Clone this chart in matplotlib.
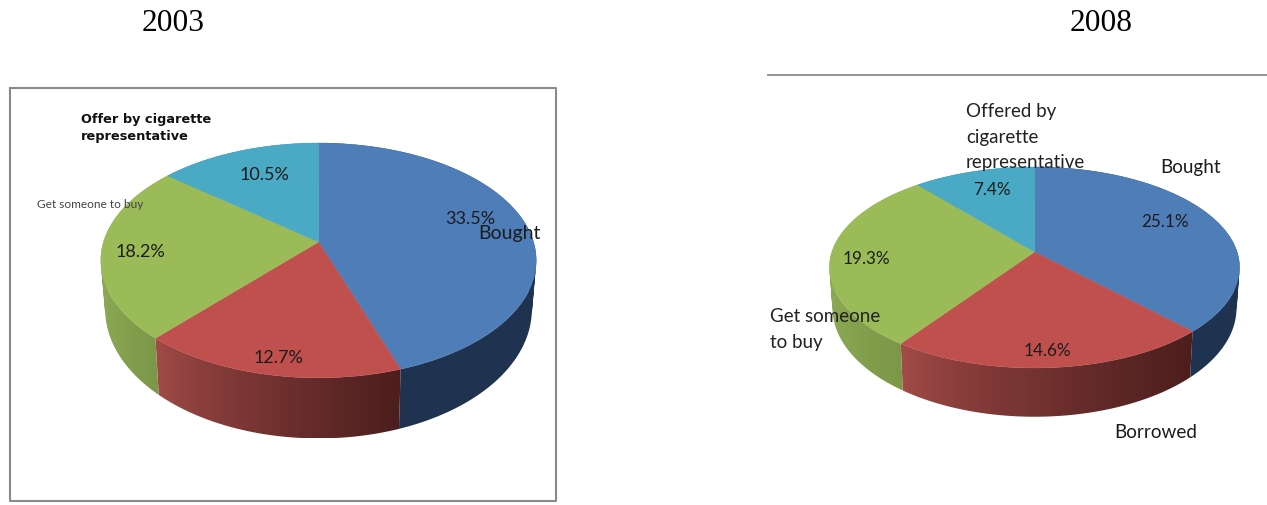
import numpy as np
import matplotlib
matplotlib.use("Agg")
import matplotlib.pyplot as plt
from matplotlib.path import Path
from matplotlib.colors import to_rgb

# Sources of the first cigarette, share in percent
sources_2003 = [33.5, 12.7, 18.2, 10.5]
sources_2008 = [25.1, 14.6, 19.3, 7.4]

top_colors = ["#4e7db8", "#bf504d", "#9bbb59", "#4aaac5"]
side_colors = [("#1f3350", "#1f3350"), ("#a44c49", "#4c1e1d"),
               ("#8dab55", "#7c9748"), ("#35798c", "#35798c")]


def project(theta, geo):
    # circle seen in perspective, theta runs clockwise from 12 o'clock
    u = np.sin(theta)
    v = -np.cos(theta)
    d = 1 - geo["k"] * v
    return geo["A"] * u / d, geo["B"] * v / d


def wall_path(px, py, qx, qy):
    # union of small quads swept from the top rim to the bottom rim
    parts = []
    for j in range(len(px) - 1):
        quad = np.array([(px[j], py[j]), (px[j + 1], py[j + 1]),
                         (qx[j + 1], qy[j + 1]), (qx[j], qy[j])])
        area = np.sum(quad[:, 0] * np.roll(quad[:, 1], -1) - np.roll(quad[:, 0], -1) * quad[:, 1])
        if area < 0:
            quad = quad[::-1]
        parts.append(Path(np.vstack([quad, quad[0]]), closed=True))
    return Path.make_compound_path(*parts)


def draw_pie(ax, values, geo):
    values = np.array(values)
    edges = np.concatenate([[0], np.cumsum(values) / values.sum()]) * 2 * np.pi
    cx, cy = geo["cx"], geo["cy"]

    for i in range(len(values)):
        th = np.linspace(edges[i], edges[i + 1], 200)
        x, y = project(th, geo)

        # outer wall: horizontal gradient clipped to the slice's band
        xb = x * geo["sx"]
        yb = y * geo["sy"] + geo["h"]
        path = wall_path(cx + x, cy + y, cx + xb, cy + yb)

        x0, x1 = min((cx + x).min(), (cx + xb).min()), max((cx + x).max(), (cx + xb).max())
        y0, y1 = min((cy + y).min(), (cy + yb).min()), max((cy + y).max(), (cy + yb).max())
        front = y > -10
        fx = cx + x[front] if front.any() else cx + x
        cols = np.linspace(x0, x1, 300)
        t = np.clip((cols - fx.min()) / max(fx.max() - fx.min(), 1), 0, 1) ** 0.75
        c0 = np.array(to_rgb(side_colors[i][0]))
        c1 = np.array(to_rgb(side_colors[i][1]))
        img = (c0[None, :] + (c1 - c0)[None, :] * t[:, None])[None, :, :]
        im = ax.imshow(img, extent=(x0, x1, y1, y0), aspect="auto", zorder=2,
                       interpolation="bilinear")
        im.set_clip_path(path, transform=ax.transData)

    # top face
    for i in range(len(values)):
        th = np.linspace(edges[i], edges[i + 1], 200)
        x, y = project(th, geo)
        xs = np.concatenate([[cx], cx + x])
        ys = np.concatenate([[cy], cy + y])
        ax.fill(xs, ys, color=top_colors[i], lw=0.3, zorder=3)


fig = plt.figure(figsize=(12.67, 5.06), dpi=100)
ax = fig.add_axes([0, 0, 1, 1])
ax.axis("off")

geo_2003 = dict(cx=318.5, cy=243, A=215, B=114.5, k=0.157, sx=0.98, sy=1.10, h=47)
geo_2008 = dict(cx=1034.5, cy=253, A=202.6, B=98.1, k=0.154, sx=0.985, sy=1.08, h=39.5)

# frame and rule around the two panels
ax.plot([10, 556, 556, 10, 10], [89, 89, 502, 502, 89], color="#8a8a8a", lw=1.5, zorder=1)
ax.plot([768, 1267], [76, 76], color="#8a8a8a", lw=1.3, zorder=1)

draw_pie(ax, sources_2003, geo_2003)
draw_pie(ax, sources_2008, geo_2008)

ax.set_xlim(0, 1267)
ax.set_ylim(506, 0)

serif = "Liberation Serif"
ax.text(173, 23, "2003", family=serif, fontsize=22.6, ha="center", va="center")
ax.text(1101.5, 23, "2008", family=serif, fontsize=22.6, ha="center", va="center")

body = dict(family="Lato", color="#1c1c1c", zorder=5, ha="center", va="center")

# 2003 labels
ax.text(264, 175, "10.5%", fontsize=13, **body)
ax.text(140, 252, "18.2%", fontsize=13, **body)
ax.text(278, 358, "12.7%", fontsize=13, **body)
ax.text(470, 219, "33.5%", fontsize=13, **body)
ax.text(509, 234, "Bought", fontsize=14, **body)
ax.text(81, 128, "Offer by cigarette\nrepresentative", family="DejaVu Sans", weight="bold",
        fontsize=9.3, color="#111111", ha="left", va="center", linespacing=1.4, zorder=5)
ax.text(90.5, 204, "Get someone to buy", family="Lato",
        fontsize=8.6, color="#444444", ha="center", va="center", zorder=5)

# 2008 labels
ax.text(992, 190, "7.4%", fontsize=12.3, **body)
ax.text(1165, 222, "25.1%", fontsize=12.3, **body)
ax.text(866, 259, "19.3%", fontsize=12.3, **body)
ax.text(1047, 351, "14.6%", fontsize=12.3, **body)
ax.text(966, 137, "Offered by\ncigarette\nrepresentative", family="Lato", fontsize=13.5,
        color="#222222", ha="left", va="center", linespacing=1.6, zorder=5)
ax.text(1191, 167, "Bought", fontsize=13.6, **body)
ax.text(770, 329.5, "Get someone\nto buy", family="Lato", fontsize=13.5, color="#222222",
        ha="left", va="center", linespacing=1.6, zorder=5)
ax.text(1156, 433, "Borrowed", fontsize=13.6, **body)

fig.savefig("out.png", dpi=100)
